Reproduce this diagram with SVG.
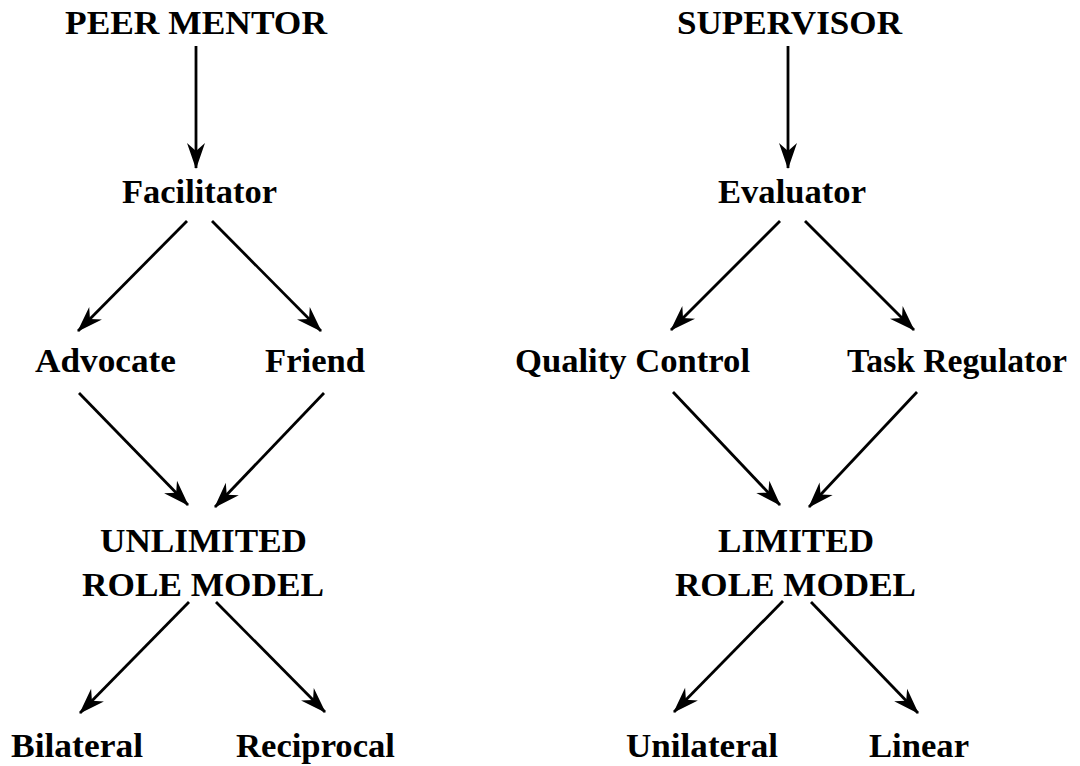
<svg xmlns="http://www.w3.org/2000/svg" width="1080" height="766" viewBox="0 0 1080 766">
<style>
  text { font-family: "Liberation Serif", "Times New Roman", serif; font-weight: bold; font-size: 34px; fill: #000; text-anchor: start; }
  .edge { stroke: #000; stroke-width: 2.8; fill: none; marker-end: url(#ah); }
</style>
<defs>
  <marker id="ah" viewBox="-28 -12 30 24" refX="0" refY="0" markerWidth="30" markerHeight="24" markerUnits="userSpaceOnUse" orient="auto">
    <path d="M 1 0 L -25 -9 L -17 0 L -25 9 Z" fill="#000"/>
  </marker>
</defs>
<rect width="1080" height="766" fill="#fff"/>
<g id="connectors">
  <line class="edge" x1="196" y1="46" x2="196" y2="168"/>
  <line class="edge" x1="788" y1="46" x2="788" y2="168"/>
  <line class="edge" x1="187" y1="221" x2="78" y2="331"/>
  <line class="edge" x1="212" y1="221" x2="321" y2="331"/>
  <line class="edge" x1="79" y1="393" x2="188" y2="505"/>
  <line class="edge" x1="324" y1="393" x2="215" y2="507"/>
  <line class="edge" x1="780" y1="221" x2="671" y2="330"/>
  <line class="edge" x1="805" y1="221" x2="914" y2="330"/>
  <line class="edge" x1="673" y1="392" x2="780" y2="505"/>
  <line class="edge" x1="917" y1="392" x2="809" y2="507"/>
  <line class="edge" x1="189" y1="602" x2="80" y2="713"/>
  <line class="edge" x1="216" y1="602" x2="325" y2="712"/>
  <line class="edge" x1="783" y1="601" x2="674" y2="712"/>
  <line class="edge" x1="811" y1="602" x2="918" y2="713"/>
</g>
<g id="peer-mentor"><text x="65" y="34" textLength="262" lengthAdjust="spacingAndGlyphs">PEER MENTOR</text></g>
<g id="supervisor"><text x="677" y="34" textLength="225" lengthAdjust="spacingAndGlyphs">SUPERVISOR</text></g>
<g id="facilitator"><text x="122" y="203" textLength="155" lengthAdjust="spacingAndGlyphs">Facilitator</text></g>
<g id="evaluator"><text x="718" y="203" textLength="148" lengthAdjust="spacingAndGlyphs">Evaluator</text></g>
<g id="advocate"><text x="35" y="372" textLength="141" lengthAdjust="spacingAndGlyphs">Advocate</text></g>
<g id="friend"><text x="265" y="372" textLength="100" lengthAdjust="spacingAndGlyphs">Friend</text></g>
<g id="quality-control"><text x="515" y="372" textLength="235" lengthAdjust="spacingAndGlyphs">Quality Control</text></g>
<g id="task-regulator"><text x="847" y="372" textLength="220" lengthAdjust="spacingAndGlyphs">Task Regulator</text></g>
<g id="unlimited-role-model">
  <text x="100" y="552" textLength="207" lengthAdjust="spacingAndGlyphs">UNLIMITED</text>
  <text x="82" y="596" textLength="242" lengthAdjust="spacingAndGlyphs">ROLE MODEL</text>
</g>
<g id="limited-role-model">
  <text x="718" y="552" textLength="156" lengthAdjust="spacingAndGlyphs">LIMITED</text>
  <text x="675" y="596" textLength="241" lengthAdjust="spacingAndGlyphs">ROLE MODEL</text>
</g>
<g id="bilateral"><text x="11" y="757" textLength="132" lengthAdjust="spacingAndGlyphs">Bilateral</text></g>
<g id="reciprocal"><text x="236" y="757" textLength="159" lengthAdjust="spacingAndGlyphs">Reciprocal</text></g>
<g id="unilateral"><text x="626" y="757" textLength="152" lengthAdjust="spacingAndGlyphs">Unilateral</text></g>
<g id="linear"><text x="869" y="757" textLength="100" lengthAdjust="spacingAndGlyphs">Linear</text></g>
</svg>
